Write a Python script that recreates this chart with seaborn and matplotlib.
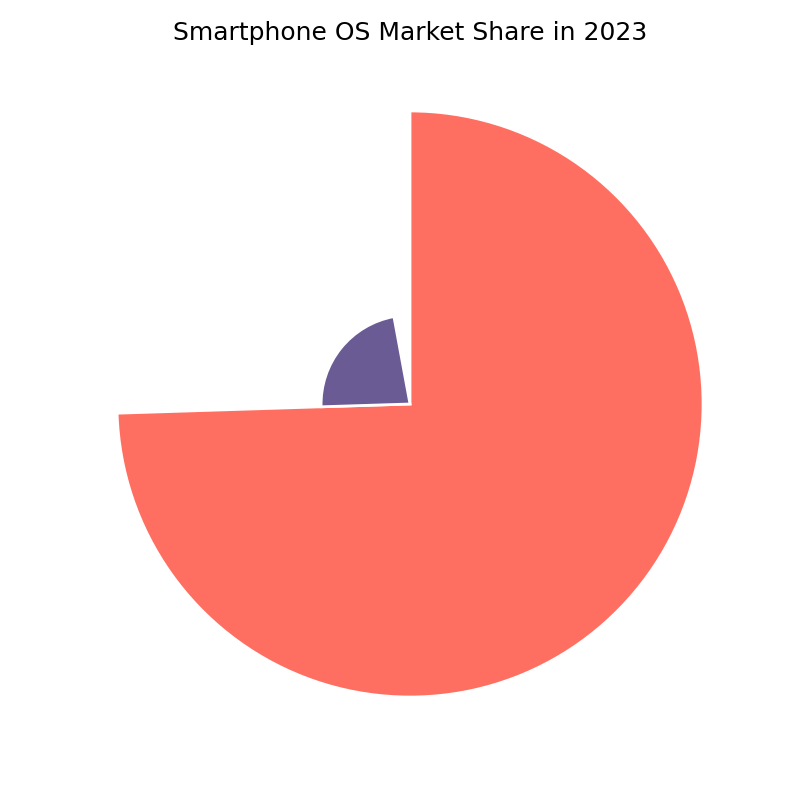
import matplotlib
matplotlib.use("Agg")
import matplotlib.pyplot as plt
import numpy as np
import seaborn as sns

# market share in percent
OS_NAMES = ["Android", "iOS"]
SHARES = [74.5, 22.6]
COLORS = ["#FF6F61", "#6B5B95"]


def main() -> None:
    sns.set_style("white")
    plt.rcParams["font.family"] = ["DejaVu Sans"]

    shares = np.array(SHARES)
    widths = shares / 100.0 * 2 * np.pi
    starts = np.concatenate([[0.0], np.cumsum(widths)[:-1]])

    fig = plt.figure(figsize=(8, 8), dpi=100)
    ax = fig.add_subplot(111, projection="polar")
    ax.set_theta_zero_location("N")
    ax.set_theta_direction(-1)
    ax.bar(starts, shares, width=widths, bottom=0.0, align="edge",
           color=COLORS, edgecolor="white", linewidth=2)
    ax.set_ylim(0, 78.3)
    ax.set_axis_off()
    ax.set_title("Smartphone OS Market Share in 2023", fontsize=18, y=1.077, color="black")

    fig.savefig("out.png", dpi=100)
    plt.close(fig)


if __name__ == "__main__":
    main()
